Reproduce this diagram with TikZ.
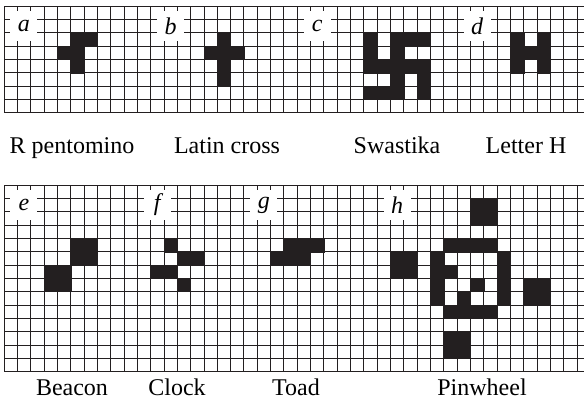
\documentclass[tikz,border=0pt]{standalone}
\usepackage{fontspec}
\setmainfont{Liberation Serif}
\usepackage{tikz}
\definecolor{InkBlack}{HTML}{231F20}
\tikzset{
    % grid lines of a board
    gridline/.style={
        line width=0.9pt,
        draw=InkBlack
    },
    % a live cell
    livecell/.style={
        fill=InkBlack,
        draw=InkBlack,
        line width=0.3pt
    },
    % panel letter in its white patch
    tagnode/.style={
        fill=white,
        inner sep=0pt,
        minimum width=27pt,
        minimum height=30pt,
        font=\fontsize{24}{24}\selectfont\itshape
    },
    % name under a pattern
    captionnode/.style={
        anchor=base,
        inner sep=0pt,
        font=\fontsize{24}{26}\selectfont
    }
}
\newcommand{\livecells}[1]{\foreach \c/\r in {#1} \filldraw[livecell] (\c,\r) rectangle ++(1,1);}

\begin{document}
\begin{tikzpicture}[x=1pt,y=-1pt]
    \useasboundingbox (0,0) rectangle (584,402);

    % top board
    \begin{scope}[shift={(4,6)}, x=13.33pt, y=-13.33pt]
        \foreach \r in {0,...,8} \draw[gridline] (0,\r) -- (43.5,\r);
        \foreach \c in {0,...,43} \draw[gridline] (\c,0) -- (\c,8);
        % R pentomino
        \livecells{5/2,6/2,4/3,5/3,5/4}
        % Latin cross
        \livecells{16/2,15/3,16/3,17/3,16/4,16/5}
        % Swastika
        \livecells{27/2,29/2,30/2,31/2,27/3,29/3,27/4,28/4,29/4,30/4,31/4,29/5,31/5,27/6,28/6,29/6,31/6}
        % Letter H
        \livecells{38/2,40/2,38/3,39/3,40/3,38/4,40/4}
        \node[tagnode] (tagA) at (1.5,1.5) {a};
        \node[tagnode] (tagB) at (12.5,1.5) {b};
        \node[tagnode] (tagC) at (23.5,1.5) {c};
        \node[tagnode] (tagD) at (35.5,1.5) {d};
    \end{scope}

    \node[captionnode] (capA) at (72,153) {R pentomino};
    \node[captionnode] (capB) at (227,153) {Latin cross};
    \node[captionnode] (capC) at (397,153) {Swastika};
    \node[captionnode] (capD) at (526,153) {Letter H};

    % bottom board
    \begin{scope}[shift={(4,185)}, x=13.33pt, y=-13.33pt]
        \foreach \r in {0,...,14} \draw[gridline] (0,\r) -- (43.5,\r);
        \foreach \c in {0,...,43} \draw[gridline] (\c,0) -- (\c,14);
        % Beacon
        \livecells{5/4,6/4,5/5,6/5,3/6,4/6,3/7,4/7}
        % Clock
        \livecells{12/4,13/5,14/5,11/6,12/6,13/7}
        % Toad
        \livecells{21/4,22/4,23/4,20/5,21/5,22/5}
        % Pinwheel
        \livecells{35/1,36/1,35/2,36/2,33/4,34/4,35/4,36/4,29/5,30/5,29/6,30/6}
        \livecells{32/5,32/6,32/7,32/8,37/5,37/6,37/7,37/8,33/6,35/7,34/8}
        \livecells{39/7,40/7,39/8,40/8,33/9,34/9,35/9,36/9,33/11,34/11,33/12,34/12}
        \node[tagnode] (tagE) at (1.5,1.5) {e};
        \node[tagnode] (tagF) at (11.5,1.5) {f};
        \node[tagnode] (tagG) at (19.5,1.5) {g};
        \node[tagnode] (tagH) at (29.5,1.5) {h};
    \end{scope}

    \node[captionnode] (capE) at (72,395) {Beacon};
    \node[captionnode] (capF) at (177,395) {Clock};
    \node[captionnode] (capG) at (296,395) {Toad};
    \node[captionnode] (capH) at (482,395) {Pinwheel};
\end{tikzpicture}
\end{document}
